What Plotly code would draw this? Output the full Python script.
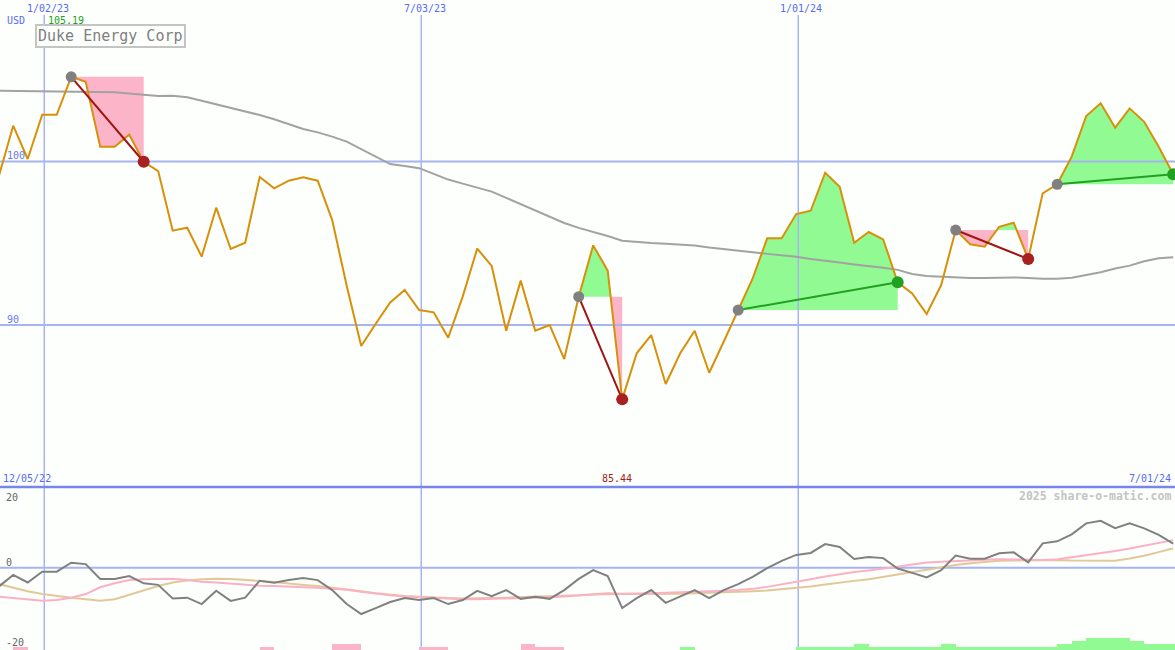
import pandas as pd
import plotly.graph_objects as go

# ---------------- data ----------------
dates = pd.date_range("2022-12-11", periods=82, freq="7D")

price = [
    99.08, 102.20, 100.16, 102.87, 102.87, 105.19, 104.89, 100.91, 100.91, 101.65,
    99.99, 99.42, 95.77, 95.95, 94.18, 97.18, 94.65, 95.03, 99.06, 98.36,
    98.83, 99.04, 98.83, 96.42, 92.40, 88.71, 90.07, 91.37, 92.14, 90.91,
    90.77, 89.22, 91.73, 94.67, 93.61, 89.64, 92.71, 89.64, 89.99, 87.91,
    91.73, 94.87, 93.32, 85.44, 88.26, 89.38, 86.38, 88.26, 89.64, 87.07,
    88.97, 90.91, 92.85, 95.30, 95.30, 96.79, 96.99, 99.32, 98.46, 95.03,
    95.69, 95.24, 92.61, 91.93, 90.67, 92.44, 95.81, 94.94, 94.79, 96.01,
    96.26, 94.04, 98.06, 98.61, 100.30, 102.79, 103.57, 102.08, 103.26, 102.44,
    100.91, 99.22]

ma = [
    104.34, 104.33, 104.31, 104.28, 104.28, 104.28, 104.26, 104.25, 104.24, 104.17,
    104.10, 104.02, 104.03, 103.94, 103.73, 103.52, 103.30, 103.08, 102.85, 102.59,
    102.28, 102.00, 101.79, 101.53, 101.22, 100.77, 100.32, 99.85, 99.73, 99.60,
    99.25, 98.90, 98.65, 98.41, 98.16, 97.78, 97.40, 97.02, 96.63, 96.24,
    95.94, 95.70, 95.44, 95.16, 95.08, 95.02, 94.97, 94.91, 94.86, 94.74,
    94.63, 94.54, 94.45, 94.35, 94.26, 94.18, 94.04, 93.91, 93.82, 93.70,
    93.61, 93.50, 93.37, 93.12, 93.00, 92.95, 92.91, 92.88, 92.87, 92.90,
    92.91, 92.87, 92.82, 92.83, 92.89, 93.06, 93.22, 93.45, 93.63, 93.90,
    94.08, 94.14]

osc = [
    -4.75, -1.8, -3.7, -1.0, -1.0, 1.25, 0.9, -2.8, -2.8, -2.1,
    -3.9, -4.3, -7.7, -7.5, -9.1, -5.75, -8.3, -7.5, -3.25, -3.75,
    -3.1, -2.6, -3.1, -5.6, -9.1, -11.6, -10.1, -8.6, -7.6, -8.1,
    -7.6, -9.1, -8.1, -5.8, -7.1, -5.6, -7.8, -7.3, -7.8, -5.6,
    -2.8, -0.6, -2.1, -10.1, -7.6, -5.6, -8.8, -7.1, -5.6, -7.6,
    -5.6, -4.1, -2.3, -0.1, 1.7, 3.2, 3.7, 5.9, 5.2, 2.2,
    2.7, 2.4, -0.2, -1.3, -2.45, -0.6, 3.05, 2.25, 2.25, 3.6,
    3.85, 1.35, 6.1, 6.6, 8.35, 11.1, 11.75, 9.9, 11.1, 9.85,
    8.2, 6.05]

sig_fast = [
    -7.25, -7.6, -8.0, -8.3, -8.1, -7.5, -6.6, -4.9, -3.9, -3.1,
    -2.9, -2.8, -2.75, -3.1, -3.5, -3.7, -4.0, -4.3, -4.5, -4.6,
    -4.8, -4.9, -5.0, -5.2, -5.5, -6.0, -6.5, -6.9, -7.2, -7.4,
    -7.6, -7.8, -7.9, -7.9, -7.8, -7.7, -7.7, -7.6, -7.4, -7.2,
    -6.9, -6.6, -6.4, -6.5, -6.5, -6.4, -6.3, -6.2, -6.0, -5.9,
    -5.8, -5.6, -5.3, -4.8, -4.2, -3.5, -2.9, -2.2, -1.6, -1.1,
    -0.7, -0.3, 0.25, 0.8, 1.3, 1.5, 1.7, 1.9, 2.0, 2.1,
    2.1, 2.0, 1.9, 2.1, 2.6, 3.1, 3.6, 4.2, 4.8, 5.5,
    6.2, 6.9]

sig_slow = [
    -4.1, -5.0, -5.9, -6.6, -7.1, -7.5, -7.9, -8.25, -7.9, -6.8,
    -5.6, -4.6, -3.7, -3.2, -2.9, -2.75, -2.8, -3.0, -3.3, -3.6,
    -4.0, -4.3, -4.6, -5.0, -5.4, -5.9, -6.4, -6.8, -7.1, -7.3,
    -7.5, -7.6, -7.7, -7.7, -7.6, -7.5, -7.4, -7.3, -7.2, -7.1,
    -6.9, -6.7, -6.6, -6.6, -6.6, -6.6, -6.6, -6.5, -6.4, -6.3,
    -6.2, -6.1, -5.9, -5.7, -5.4, -5.1, -4.7, -4.2, -3.7, -3.3,
    -2.9, -2.3, -1.65, -1.0, -0.4, 0.25, 0.7, 1.1, 1.4, 1.75,
    1.8, 1.85, 1.9, 1.9, 1.8, 1.75, 1.75, 1.75, 2.3, 3.0,
    3.9, 4.85]

signal_bars = [
    0, -1, 0, 0, 0, 0, 0, 0, 0, 0,
    0, 0, 0, 0, 0, 0, 0, 0, -1, 0,
    0, 0, 0, -2, -2, 0, 0, 0, 0, -1,
    -1, 0, 0, 0, 0, 0, -2, -1, -1, 0,
    0, 0, 0, 0, 0, 0, 0, 1, 0, 0,
    0, 0, 0, 0, 0, 1, 1, 1, 1, 2,
    1, 1, 1, 1, 1, 2, 1, 1, 1, 1,
    1, 1, 1, 2, 3, 4, 4, 4, 3, 2,
    2, 2]

entry_idx = [5, 40, 51, 66, 73]
exit_idx = [10, 43, 62, 71, 81]

grid_dates = ["2023-01-02", "2023-07-03", "2024-01-01"]
grid_labels = ["1/02/23", "7/03/23", "1/01/24"]
price_grid = [90, 100]
price_grid_labels = ["90", "100"]
osc_labels = [20, 0, -20]

# ---------------- geometry ----------------
W, H = 1175, 650
split_px = 487
y_main = [80.074, 109.896]
y_low = [-20.6, 20.2]
x_range = ["2022-12-11 15:00", "2024-06-30 21:00"]

BG = "#fcfffc"
GRID = "#a8b4f2"
BLUE_TXT = "#5a6af0"
FONT = "DejaVu Sans Mono"
PINK = "#fcb4c8"
GREEN = "#92fa92"

def px(x):
    return x / W

def py(y):
    return 1 - y / H

fig = go.Figure()
ts = [d.value for d in dates]

def clip_poly(a, b, mode):
    e = price[a]
    xs, ys = [], []
    for j in range(a, b + 1):
        if j > a:
            p0, p1 = price[j - 1], price[j]
            if (p0 - e) * (p1 - e) < 0:
                t = (e - p0) / (p1 - p0)
                xs.append(ts[j - 1] + t * (ts[j] - ts[j - 1]))
                ys.append(e)
        p = price[j]
        xs.append(ts[j])
        ys.append(max(p, e) if mode == "up" else min(p, e))
    xs += [ts[b], ts[a]]
    ys += [e, e]
    return [pd.Timestamp(int(v)) for v in xs], ys

# fills
for a, b in zip(entry_idx, exit_idx):
    e = price[a]
    seg = price[a:b + 1]
    if any(p > e for p in seg):
        xs, ys = clip_poly(a, b, "up")
        fig.add_trace(go.Scatter(x=xs, y=ys, fill="toself", fillcolor=GREEN,
                                 mode="lines", line=dict(width=0), hoverinfo="skip"))
    if any(p < e for p in seg):
        xs, ys = clip_poly(a, b, "down")
        fig.add_trace(go.Scatter(x=xs, y=ys, fill="toself", fillcolor=PINK,
                                 mode="lines", line=dict(width=0), hoverinfo="skip"))

# gridlines (as traces so they sit above fills)
for g in price_grid:
    fig.add_trace(go.Scatter(x=x_range, y=[g, g], mode="lines",
                             line=dict(color=GRID, width=2), hoverinfo="skip"))
top_grid_val = y_main[1] - 15 / (split_px / (y_main[1] - y_main[0]))
for gd in grid_dates:
    fig.add_trace(go.Scatter(x=[gd, gd], y=[y_main[0], top_grid_val], mode="lines",
                             line=dict(color=GRID, width=1.5), hoverinfo="skip"))
    fig.add_trace(go.Scatter(x=[gd, gd], y=y_low, mode="lines", yaxis="y2",
                             line=dict(color=GRID, width=1.5), hoverinfo="skip"))
fig.add_trace(go.Scatter(x=x_range, y=[0, 0], mode="lines", yaxis="y2",
                         line=dict(color=GRID, width=2), hoverinfo="skip"))

# moving average and price
fig.add_trace(go.Scatter(x=dates, y=ma, mode="lines",
                         line=dict(color="#a2a2a2", width=2), hoverinfo="skip"))
fig.add_trace(go.Scatter(x=dates, y=price, mode="lines",
                         line=dict(color="#d8900a", width=2), hoverinfo="skip"))

# trade lines and markers
for a, b in zip(entry_idx, exit_idx):
    win = price[b] > price[a]
    col = "#22a022" if win else "#a01414"
    fig.add_trace(go.Scatter(x=[dates[a], dates[b]], y=[price[a], price[b]], mode="lines",
                             line=dict(color=col, width=2), hoverinfo="skip"))
for a, b in zip(entry_idx, exit_idx):
    win = price[b] > price[a]
    fig.add_trace(go.Scatter(x=[dates[a]], y=[price[a]], mode="markers",
                             marker=dict(color="#808080", size=11), hoverinfo="skip"))
    fig.add_trace(go.Scatter(x=[dates[b]], y=[price[b]], mode="markers",
                             marker=dict(color="#22a022" if win else "#a82020", size=12),
                             hoverinfo="skip"))

# lower panel lines
fig.add_trace(go.Scatter(x=dates, y=sig_slow, mode="lines", yaxis="y2",
                         line=dict(color="#e2c898", width=2), hoverinfo="skip"))
fig.add_trace(go.Scatter(x=dates, y=sig_fast, mode="lines", yaxis="y2",
                         line=dict(color="#fcb0c4", width=2), hoverinfo="skip"))
fig.add_trace(go.Scatter(x=dates, y=osc, mode="lines", yaxis="y2",
                         line=dict(color="#808080", width=2), hoverinfo="skip"))

# signal bars
bar_x = [d + pd.Timedelta(hours=84) for d in dates]
fig.add_trace(go.Bar(x=bar_x, y=[abs(v) for v in signal_bars], yaxis="y3",
                     width=7 * 86400000,
                     marker=dict(color=[GREEN if v > 0 else PINK for v in signal_bars],
                                 line=dict(width=0)),
                     hoverinfo="skip"))

# ---------------- annotations ----------------
ann = []

def label(text, x, y, anchor="left", color=BLUE_TXT, size=10, **kw):
    ann.append(dict(text=text, x=px(x), y=py(y), xref="paper", yref="paper",
                    xanchor=anchor, yanchor="middle", showarrow=False,
                    font=dict(family=FONT, size=size, color=color), **kw))

for gl, xc in zip(grid_labels, [48, 424.5, 801]):
    label(gl, xc, 8.5, anchor="center")
label("USD", 5, 21)
label(f"{max(price):.2f}", 46, 21, color="#22a022")
label("Duke Energy Corp", 110, 36.5, anchor="center", color="#808080", size=15,
      bordercolor="#c4c4c4", borderwidth=2, borderpad=1, bgcolor="#fdfffd")
for lab, yy in zip(price_grid_labels, [319, 155.7]):
    label(lab, 5, yy, color="#6a7af2")
label("12/05/22", 1, 478)
label(f"{min(price):.2f}", 617, 478, anchor="center", color="#a01c1c")
label("7/01/24", 1173, 478, anchor="right")
label("<b>2025 share-o-matic.com</b>", 1173, 496, anchor="right", color="#c4c4c4", size=11.5)
for v, yy in zip(osc_labels, [497, 562, 642]):
    label(str(v), 4, yy, color="#666666")

shapes = [dict(type="line", xref="paper", yref="paper", x0=0, x1=1,
               y0=py(split_px), y1=py(split_px), line=dict(color="#7886ec", width=2.5))]

fig.update_layout(
    width=W, height=H, margin=dict(l=0, r=0, t=0, b=0),
    paper_bgcolor=BG, plot_bgcolor=BG, showlegend=False,
    xaxis=dict(range=x_range, type="date", showgrid=False, zeroline=False,
               showticklabels=False, ticks="", showline=False),
    yaxis=dict(domain=[(H - split_px) / H, 1], range=y_main, showgrid=False,
               zeroline=False, showticklabels=False, ticks=""),
    yaxis2=dict(domain=[0, (H - split_px) / H], range=y_low, showgrid=False,
                zeroline=False, showticklabels=False, ticks=""),
    yaxis3=dict(overlaying="y2", range=[0, (H - split_px) / 3], showgrid=False,
                zeroline=False, showticklabels=False, ticks=""),
    annotations=ann, shapes=shapes, bargap=0,
)

fig.write_html(
    "out.html",
    config={"displayModeBar": False},
    post_script="document.body.style.margin='0';document.body.style.overflow='hidden';",
)
